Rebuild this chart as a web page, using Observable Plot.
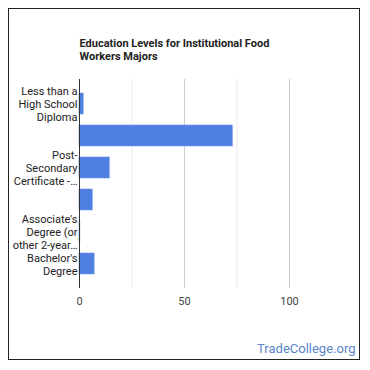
<!DOCTYPE html>
<html>
<head>
<meta charset="utf-8">
<script src="https://cdn.jsdelivr.net/npm/d3@7"></script>
<script src="https://cdn.jsdelivr.net/npm/@observablehq/plot@0.6"></script>
<style>
  html, body { margin: 0; padding: 0; background: #fff; }
  #wrap { position: relative; width: 370px; height: 370px; font-family: Roboto, "Noto Sans", sans-serif; }
  #border { position: absolute; left: 8px; top: 8px; width: 352px; height: 352px; box-sizing: border-box; border: 1px solid #222; pointer-events: none; }
  svg { display: block; }
</style>
</head>
<body>
<div id="wrap"><div id="border"></div></div>
<script>
const title = "Education Levels for Institutional Food\nWorkers Majors";
const categories = [
  "Less than a High School Diploma",
  "High School Diploma",
  "Post-Secondary Certificate",
  "Some College Courses",
  "Associate's Degree (or other 2-year degree)",
  "Bachelor's Degree"
];
const tickLabels = [
  "Less than a\nHigh School\nDiploma",
  "",
  "Post-\nSecondary\nCertificate -…",
  "",
  "Associate's\nDegree (or\nother 2-year…",
  "Bachelor's\nDegree"
];
const values = [2.0, 73.0, 14.4, 6.3, 0.4, 7.2];
const xTicks = [0, 50, 100];
const minorTicks = [25, 75];
const watermark = "TradeCollege.org";

const data = categories.map((c, i) => ({cat: c, value: values[i]}));
const labelOf = new Map(categories.map((c, i) => [c, tickLabels[i]]));

const chart = Plot.plot({
  width: 370,
  height: 370,
  marginTop: 79,
  marginBottom: 82,
  marginLeft: 79,
  marginRight: 81,
  style: {fontFamily: "Roboto, 'Noto Sans', sans-serif", background: "transparent"},
  x: {domain: [0, 100]},
  y: {domain: categories, padding: 0.34},
  marks: [
    Plot.gridX(minorTicks, {stroke: "#ebebeb", strokeOpacity: 1}),
    Plot.gridX(xTicks.slice(1), {stroke: "#cccccc", strokeOpacity: 1}),
    Plot.barX(data, {x: "value", y: "cat", fill: "#4f80e0", stroke: "#6c96ea", strokeWidth: 0.6}),
    Plot.ruleX([0], {stroke: "#333"}),
    Plot.axisX(xTicks, {tickSize: 0, tickPadding: 9, fontSize: 11, color: "#444", label: null}),
    Plot.axisY({tickSize: 0, tickPadding: 2, fontSize: 11, color: "#222", lineHeight: 1.18, label: null, tickFormat: d => labelOf.get(d)}),
    Plot.text([title], {frameAnchor: "top-left", dy: -42, textAnchor: "start", lineAnchor: "top", fontSize: 11, fontWeight: "bold", fill: "#222", lineHeight: 1.21}),
    Plot.text([watermark], {frameAnchor: "bottom-right", dx: 66, dy: 60, textAnchor: "end", lineAnchor: "middle", fontSize: 13, fill: "#5b84c9"})
  ]
});
document.getElementById("wrap").prepend(chart);
</script>
</body>
</html>
